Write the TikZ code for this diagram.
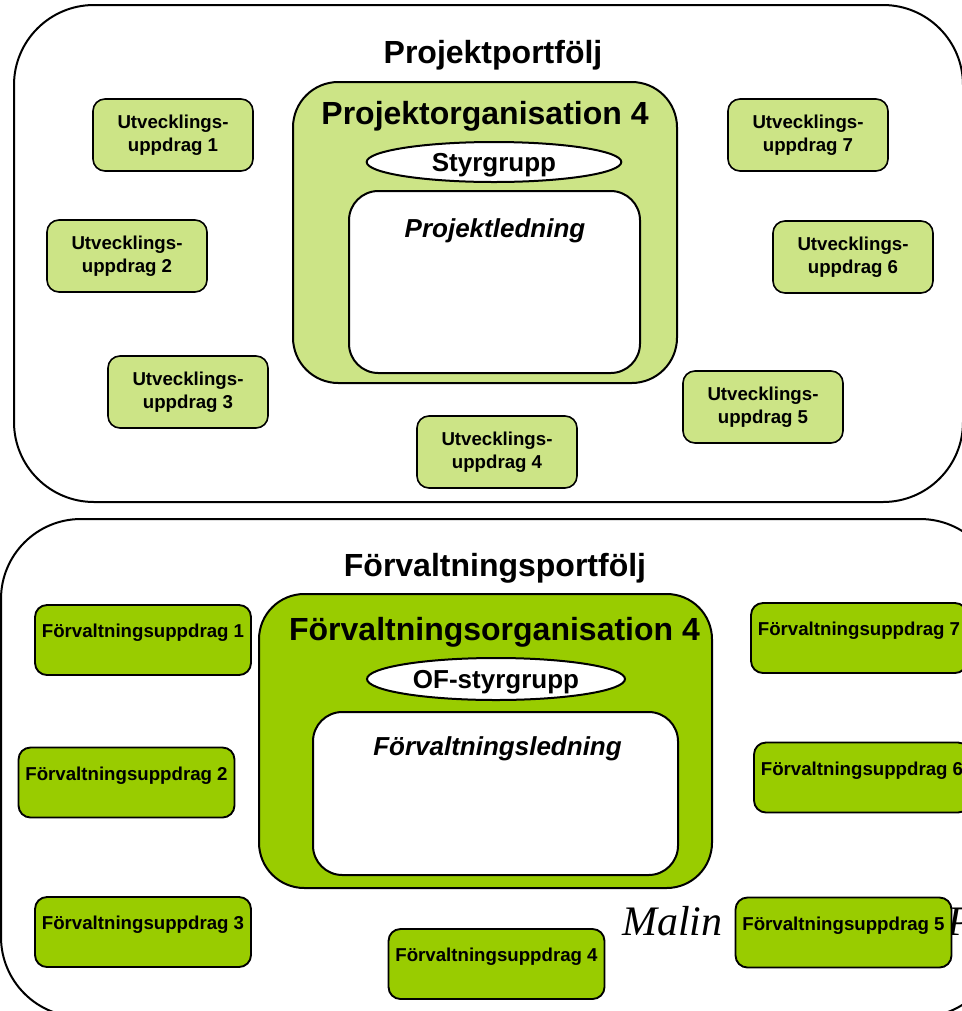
\documentclass[tikz,border=0pt]{standalone}
\usepackage{fontspec}
\setmainfont{Liberation Sans}
\newfontfamily\malinfont{Liberation Serif}
\usepackage{xcolor}
\usetikzlibrary{positioning,shapes.geometric}
\definecolor{ugreen}{RGB}{204,228,134}
\definecolor{fgreen}{RGB}{153,204,0}
\tikzset{
    portfolj/.style={
        draw, line width=1.5pt, rounded corners=60pt, inner sep=0pt
    },
    orgbox/.style={
        draw, line width=1.5pt, rounded corners=34pt, inner sep=0pt
    },
    ledbox/.style={
        draw, line width=1.5pt, fill=white, rounded corners=22pt, inner sep=0pt
    },
    styr/.style={
        draw, ellipse, line width=1.5pt, fill=white, inner sep=0pt, text depth=0pt,
        font=\fontsize{19.5}{22}\selectfont\bfseries
    },
    rubrik/.style={
        inner sep=0pt, anchor=base, font=\fontsize{24}{28}\selectfont\bfseries
    },
    ledtext/.style={
        inner sep=0pt, anchor=base, font=\fontsize{19.5}{22}\selectfont\bfseries\itshape
    },
    uppdrag/.style={
        draw, line width=1.2pt, fill=ugreen, rounded corners=9pt,
        minimum width=120pt, minimum height=54pt, inner sep=0pt, align=center,
        font=\fontsize{14}{17.25}\selectfont\bfseries
    },
    fuppdrag/.style={
        draw, line width=1.4pt, fill=fgreen, rounded corners=9pt,
        minimum width=162pt, text height=24.5pt, text depth=28pt, inner sep=0pt,
        font=\fontsize{14}{16}\selectfont\bfseries
    }
}

\begin{document}
\begin{tikzpicture}[x=0.75pt, y=-0.75pt]
        \useasboundingbox (0,0) rectangle (961,1011);

        % draw project portfolio
        \node[portfolj, minimum width=711.75pt, minimum height=372.75pt] (projport) at (488.5,253.5) {};
        \node[rubrik] (projporttxt) at (493,63) {Projektportfölj};

        \node[orgbox, fill=ugreen, minimum width=288pt, minimum height=225.75pt] (projorg) at (485,232.5) {};
        \node[rubrik] (projorgtxt) at (485,124) {Projektorganisation 4};
        \node[styr, minimum width=191pt, minimum height=30pt] (styr) at (494,162) {Styrgrupp};
        \node[ledbox, minimum width=218.25pt, minimum height=136.5pt] (projled) at (494.5,282) {};
        \node[ledtext] (projledtxt) at (495,237) {Projektledning};

        \foreach \i/\x/\y in {1/173/135, 2/127/256, 3/188/392, 4/497/452, 5/763/407, 6/853/257, 7/808/135}
        {
            \node[uppdrag] (u\i) at (\x,\y) {Utvecklings-\\uppdrag \i};
        }

        % draw administration portfolio
        \node[portfolj, minimum width=749.25pt, minimum height=373.5pt] (forvport) at (500.5,768) {};
        \node[rubrik] (forvporttxt) at (495,576) {Förvaltningsportfölj};

        \node[orgbox, fill=fgreen, minimum width=339.75pt, minimum height=220.5pt] (forvorg) at (485.5,741) {};
        \node[rubrik] (forvorgtxt) at (494.5,640) {Förvaltningsorganisation 4};
        \node[styr, minimum width=193.5pt, minimum height=31.5pt] (ofstyr) at (496,679) {OF-styrgrupp};
        \node[ledbox, minimum width=273.75pt, minimum height=122.25pt] (forvled) at (495.5,793.5) {};
        \node[ledtext] (forvledtxt) at (497.5,755) {Förvaltningsledning};

        \node[anchor=base west, inner sep=0pt, font=\malinfont\itshape\fontsize{31.5}{36}\selectfont] (malin) at (622,935) {Malin\hspace{169pt}P};

        \foreach \i/\x/\y in {1/143/640, 2/126.5/782.5, 3/143/932, 4/496.5/964, 5/843.5/932.5, 6/862/777.5, 7/859/638}
        {
            \node[fuppdrag] (f\i) at (\x,\y) {Förvaltningsuppdrag \i};
        }
    \end{tikzpicture}
\end{document}
